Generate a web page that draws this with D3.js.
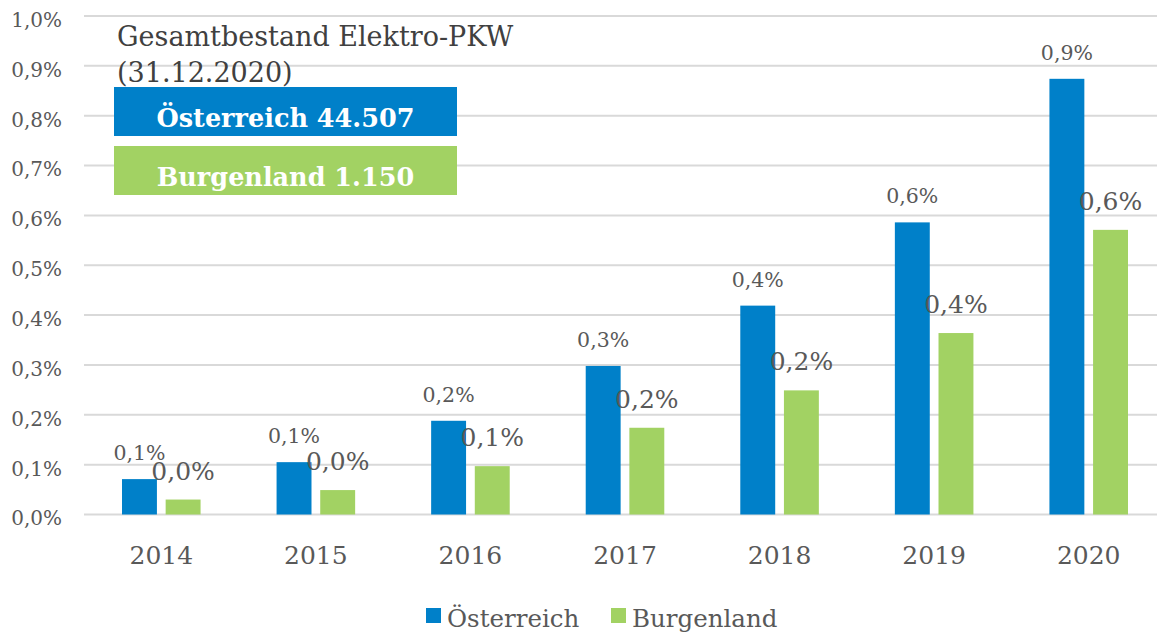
<!DOCTYPE html>
<html>
<head>
<meta charset="utf-8">
<script src="https://cdn.jsdelivr.net/npm/d3@7"></script>
<style>
  body { margin: 0; background: #fff; }
  svg { display: block; font-family: "DejaVu Serif", serif; }
</style>
</head>
<body>
<svg></svg>
<script>
// Chart data (values in percent)
var years = ["2014", "2015", "2016", "2017", "2018", "2019", "2020"];
var oesterreich = [0.071, 0.105, 0.188, 0.298, 0.419, 0.586, 0.874];
var burgenland = [0.030, 0.049, 0.097, 0.174, 0.249, 0.364, 0.571];
var seriesNames = ["Österreich", "Burgenland"];
var yTicks = [0, 0.1, 0.2, 0.3, 0.4, 0.5, 0.6, 0.7, 0.8, 0.9, 1.0];
var titleLines = ["Gesamtbestand Elektro-PKW", "(31.12.2020)"];
var totals = ["Österreich 44.507", "Burgenland 1.150"];

var width = 1157;
var height = 635;
var colors = ["#0080c9", "#a2d263"];
var textColor = "#595959";

var svg = d3.select("svg")
  .attr("width", width)
  .attr("height", height);

// German number format: comma as decimal separator
var locale = d3.formatLocale({ decimal: ",", thousands: ".", grouping: [3], currency: ["", " €"] });
var fmt = function(v) { return locale.format(".1f")(v) + "%"; };

var x = d3.scaleBand()
  .domain(years)
  .range([84, 1166]);

var x1 = d3.scaleBand()
  .domain(seriesNames)
  .range([38, x.bandwidth() - 38])
  .paddingInner(0.2);

var y = d3.scaleLinear()
  .domain([0, 1.0])
  .range([514.5, 16]);

// Gridlines
svg.append("g")
  .selectAll("line")
  .data(yTicks)
  .enter()
  .append("line")
  .attr("x1", 84)
  .attr("x2", 1166)
  .attr("y1", function(d) { return y(d); })
  .attr("y2", function(d) { return y(d); })
  .attr("stroke", "#d9d9d9")
  .attr("stroke-width", 2);

// Y axis labels
var yAxis = svg.append("g")
  .attr("transform", "translate(62,4)")
  .call(d3.axisLeft(y).tickValues(yTicks).tickSize(0).tickPadding(0).tickFormat(fmt));
yAxis.select(".domain").remove();
yAxis.selectAll("text")
  .attr("fill", textColor)
  .style("font-family", "DejaVu Serif")
  .style("font-size", "20px");

// X axis labels
var xAxis = svg.append("g")
  .attr("transform", "translate(0,546)")
  .call(d3.axisBottom(x).tickSize(0).tickPadding(0));
xAxis.select(".domain").remove();
xAxis.selectAll("text")
  .attr("fill", textColor)
  .style("font-family", "DejaVu Serif")
  .style("font-size", "25px");

// Bars
var rows = years.map(function(yr, i) {
  return { year: yr, values: [
    { key: seriesNames[0], value: oesterreich[i], idx: 0 },
    { key: seriesNames[1], value: burgenland[i], idx: 1 }
  ] };
});

var groups = svg.selectAll(".year")
  .data(rows)
  .enter()
  .append("g")
  .attr("class", "year")
  .attr("transform", function(d) { return "translate(" + x(d.year) + ",0)"; });

groups.selectAll("rect")
  .data(function(d) { return d.values; })
  .enter()
  .append("rect")
  .attr("x", function(d) { return x1(d.key); })
  .attr("width", x1.bandwidth())
  .attr("y", function(d) { return y(d.value); })
  .attr("height", function(d) { return y(0) - y(d.value); })
  .attr("fill", function(d) { return colors[d.idx]; });

// Data labels (Burgenland labels are larger)
groups.selectAll("text.val")
  .data(function(d) { return d.values; })
  .enter()
  .append("text")
  .attr("class", "val")
  .attr("x", function(d) { return x1(d.key) + x1.bandwidth() / 2; })
  .attr("y", function(d) { return y(d.value) - (d.idx === 0 ? 19 : 20); })
  .attr("text-anchor", "middle")
  .attr("fill", textColor)
  .style("font-size", function(d) { return d.idx === 0 ? "20.5px" : "25px"; })
  .text(function(d) { return fmt(d.value); });

// Title
svg.append("text")
  .attr("x", 117)
  .attr("y", 46)
  .attr("fill", "#404040")
  .style("font-size", "27px")
  .selectAll("tspan")
  .data(titleLines)
  .enter()
  .append("tspan")
  .attr("x", 117)
  .attr("dy", function(d, i) { return i === 0 ? 0 : 36; })
  .text(function(d) { return d; });

// Total boxes
var boxes = svg.selectAll(".box")
  .data(totals)
  .enter()
  .append("g")
  .attr("class", "box")
  .attr("transform", function(d, i) { return "translate(114," + (87 + i * 59) + ")"; });

boxes.append("rect")
  .attr("width", 343)
  .attr("height", 49)
  .attr("fill", function(d, i) { return colors[i]; });

boxes.append("text")
  .attr("x", 171.5)
  .attr("y", 40)
  .attr("text-anchor", "middle")
  .attr("fill", "#fff")
  .style("font-size", "25.5px")
  .style("font-weight", "bold")
  .text(function(d) { return d; });

// Legend
var legend = svg.selectAll(".legend")
  .data(seriesNames)
  .enter()
  .append("g")
  .attr("class", "legend")
  .attr("transform", function(d, i) { return "translate(" + (426 + i * 185) + ",608)"; });

legend.append("rect")
  .attr("width", 15)
  .attr("height", 15)
  .attr("fill", function(d, i) { return colors[i]; });

legend.append("text")
  .attr("x", 21)
  .attr("y", 19)
  .attr("fill", textColor)
  .style("font-size", "24.5px")
  .text(function(d) { return d; });
</script>
</body>
</html>
